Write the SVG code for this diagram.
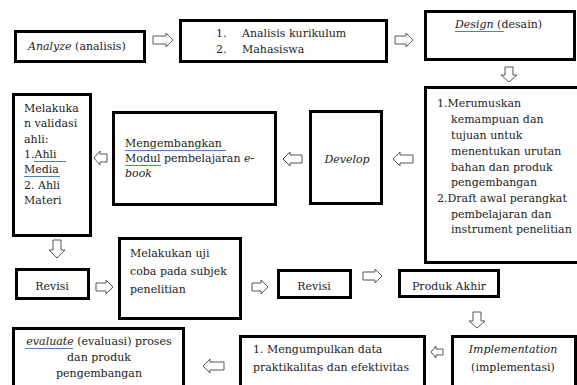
<svg xmlns="http://www.w3.org/2000/svg" width="577" height="385" viewBox="0 0 577 385">
<style>
.box{fill:#fff;stroke:#000;stroke-width:3}
.arr{fill:#fff;stroke:#555;stroke-width:1;stroke-linejoin:miter}
text{font-family:"DejaVu Serif","Liberation Serif",serif;font-size:11px;fill:#222}
.i{font-style:italic}
.ul{stroke:#4a7fd4;stroke-width:1}
</style>
<rect width="577" height="385" fill="#fff"/>
<g id="connectors">
<polygon class="arr" points="153,36 166,36 166,33 173,40 166,47 166,44 153,44"/>
<polygon class="arr" points="395,36 406,36 406,33 413,40 406,47 406,44 395,44"/>
<polygon class="arr" points="505,67 513,67 513,75 517,75 509,82 501,75 505,75"/>
<polygon class="arr" points="393,159 400,152 400,155 413,155 413,163 400,163 400,166"/>
<polygon class="arr" points="283,159 290,152 290,155 302,155 302,163 290,163 290,166"/>
<polygon class="arr" points="94,158 100,151 100,154 107,154 107,162 100,162 100,165"/>
<polygon class="arr" points="53,240 61,240 61,250 65,250 57,258 49,250 53,250"/>
<polygon class="arr" points="96,283 106,283 106,280 113,287 106,294 106,291 96,291"/>
<polygon class="arr" points="252,283 261,283 261,280 268,287 261,294 261,291 252,291"/>
<polygon class="arr" points="363,272 375,272 375,269 382,276 375,283 375,280 363,280"/>
<polygon class="arr" points="473,312 481,312 481,321 485,321 477,328 469,321 473,321"/>
<polygon class="arr" points="431,352 436,346 436,349 443,349 443,355 436,355 436,358"/>
<polygon class="arr" points="203,366 210,359 210,362 224,362 224,370 210,370 210,373"/>
</g>
<g id="analyze">
<rect class="box" x="15.5" y="31.5" width="129" height="30"/>
<text x="28" y="50"><tspan class="i">Analyze</tspan> (analisis)</text>
</g>
<g id="analisis">
<rect class="box" x="180.5" y="20.5" width="206" height="41"/>
<text x="216" y="37">1.</text><text x="242" y="37">Analisis kurikulum</text>
<text x="216" y="53">2.</text><text x="242" y="53">Mahasiswa</text>
</g>
<g id="design">
<rect class="box" x="425.5" y="11.5" width="149" height="48"/>
<text x="455" y="28"><tspan class="i">Design</tspan>  (desain)</text>
<line class="ul" x1="455" y1="31.5" x2="504" y2="31.5"/>
</g>
<g id="merumuskan">
<rect class="box" x="425.5" y="87.5" width="155" height="175"/>
<text x="437" y="107">1.Merumuskan</text>
<text x="451" y="123">kemampuan dan</text>
<text x="451" y="139">tujuan untuk</text>
<text x="451" y="155">menentukan urutan</text>
<text x="451" y="171">bahan dan produk</text>
<text x="451" y="186">pengembangan</text>
<text x="437" y="202">2.Draft awal perangkat</text>
<text x="451" y="218">pembelajaran dan</text>
<text x="451" y="233">instrument penelitian</text>
</g>
<g id="develop">
<rect class="box" x="310.5" y="111.5" width="71" height="92"/>
<text class="i" x="347" y="163" text-anchor="middle">Develop</text>
</g>
<g id="mengembangkan">
<rect class="box" x="113.5" y="112.5" width="162" height="92"/>
<text x="125" y="147">Mengembangkan</text>
<line class="ul" x1="125" y1="150.5" x2="226" y2="150.5"/>
<text x="125" y="162">Modul pembelajaran <tspan class="i">e-</tspan></text>
<line class="ul" x1="125" y1="165.5" x2="161" y2="165.5"/>
<text class="i" x="125" y="177">book</text>
</g>
<g id="validasi">
<rect class="box" x="13.5" y="94.5" width="77" height="141"/>
<text x="24" y="112">Melakuka</text>
<text x="24" y="127">n validasi</text>
<text x="24" y="143">ahli:</text>
<text x="24" y="158">1.Ahli </text>
<line class="ul" x1="34" y1="161.5" x2="66" y2="161.5"/>
<text x="24" y="173">Media</text>
<line class="ul" x1="24" y1="176.5" x2="60" y2="176.5"/>
<text x="24" y="189">2. Ahli</text>
<text x="24" y="204">Materi</text>
</g>
<g id="revisi1">
<rect class="box" x="16.5" y="269.5" width="72" height="29"/>
<text x="52" y="290" text-anchor="middle">Revisi</text>
</g>
<g id="ujicoba">
<rect class="box" x="119.5" y="238.5" width="121" height="80"/>
<text x="130" y="257">Melakukan uji</text>
<text x="130" y="275">coba pada subjek</text>
<text x="130" y="293">penelitian</text>
</g>
<g id="revisi2">
<rect class="box" x="278.5" y="270.5" width="72" height="27"/>
<text x="314" y="290" text-anchor="middle">Revisi</text>
</g>
<g id="produk">
<rect class="box" x="399.5" y="270.5" width="99" height="26"/>
<text x="449" y="290" text-anchor="middle">Produk Akhir</text>
</g>
<g id="implementation">
<rect class="box" x="452.5" y="336.5" width="123" height="60"/>
<text class="i" x="513" y="353" text-anchor="middle">Implementation</text>
<text x="513" y="371" text-anchor="middle">(implementasi)</text>
</g>
<g id="mengumpulkan">
<rect class="box" x="240.5" y="336.5" width="184" height="60"/>
<text x="253" y="353">1. Mengumpulkan data</text>
<text x="253" y="371">praktikalitas dan efektivitas</text>
</g>
<g id="evaluate">
<rect class="box" x="13.5" y="328.5" width="170" height="65"/>
<text x="99" y="345" text-anchor="middle"><tspan class="i">evaluate</tspan>  (evaluasi) proses</text>
<line class="ul" x1="25" y1="348.5" x2="73" y2="348.5"/>
<text x="99" y="361" text-anchor="middle">dan produk</text>
<text x="99" y="377" text-anchor="middle">pengembangan</text>
</g>
</svg>
